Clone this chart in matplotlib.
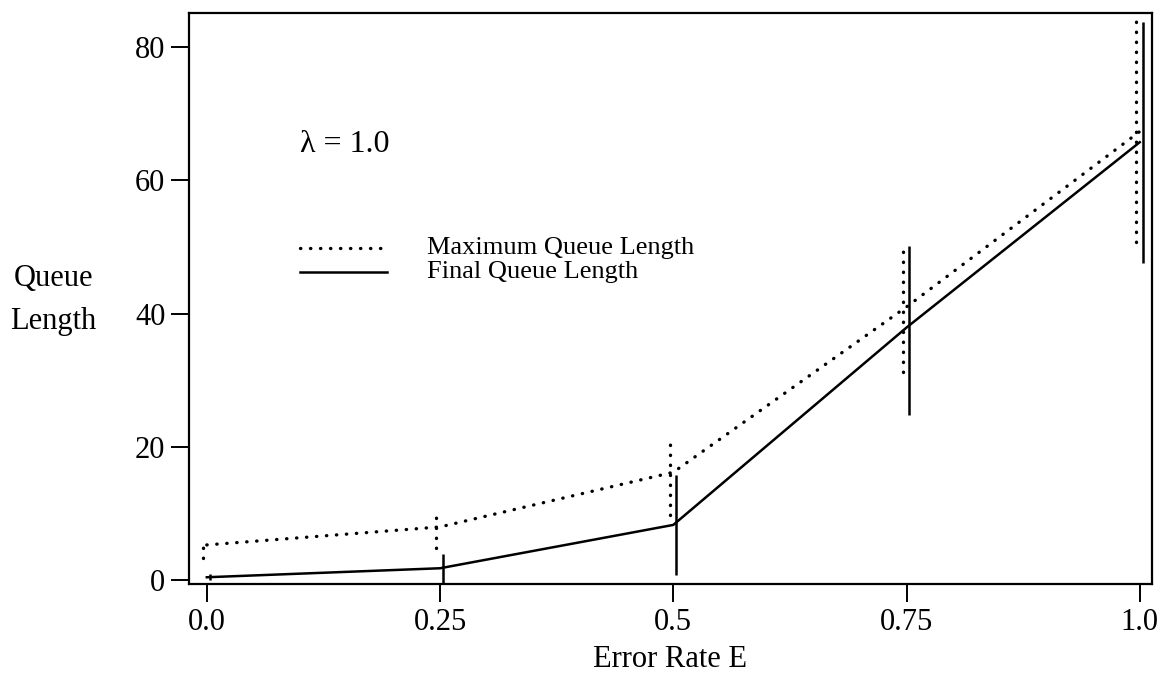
import matplotlib
matplotlib.use("Agg")
import matplotlib.pyplot as plt
import numpy as np

# error rate values on x axis
error_rate = [0.0, 0.25, 0.5, 0.75, 1.0]
x_labels = ["0.0", "0.25", "0.5", "0.75", "1.0"]

# maximum queue length (dotted) and its spread
max_mean = [5.3, 8.0, 16.2, 41.0, 67.3]
max_low = [3.4, 4.8, 9.8, 31.3, 50.7]
max_high = [5.3, 9.5, 20.9, 50.8, 84.1]

# final queue length (solid) and its spread
final_mean = [0.45, 1.8, 8.3, 37.9, 65.7]
final_low = [0.0, -0.5, 0.75, 24.8, 47.6]
final_high = [0.9, 4.0, 15.8, 50.2, 83.7]

y_ticks = [0, 20, 40, 60, 80]

plt.rcParams['font.family'] = ['Liberation Serif', 'DejaVu Serif']

fig = plt.figure(figsize=(11.6, 6.77), dpi=100)
ax = fig.add_axes([0.163, 0.137, 0.830, 0.844])

dots = (0, (0.1, 2.9))
x = np.array(error_rate)

ax.plot(x, max_mean, color='black', lw=2.4, linestyle=dots, dash_capstyle='round')
ax.plot(x, final_mean, color='black', lw=1.8)

# spread bars, dotted one slightly left, solid one slightly right
ax.vlines(x - 0.004, max_low, max_high, color='black', lw=2.4, linestyle=dots,
          capstyle='round')
ax.vlines(x + 0.003, final_low, final_high, color='black', lw=1.8)

ax.set_xlim(-0.019, 1.013)
ax.set_ylim(-0.6, 85.1)
ax.set_xticks(error_rate)
ax.set_xticklabels(x_labels)
ax.set_yticks(y_ticks)
ax.tick_params(direction='out', length=13, width=1.4, labelsize=22, pad=4)
for s in ax.spines.values():
    s.set_linewidth(1.6)

ax.set_xlabel("Error Rate E", fontsize=22, labelpad=6)
fig.text(0.046, 0.557, "Queue\nLength", fontsize=22, ha='center', va='center',
         linespacing=1.6)

ax.text(0.0999, 65.3, "λ = 1.0", fontsize=23, va='center')
# hand-drawn legend
ax.plot([0.0999, 0.193], [49.8, 49.8], color='black', lw=2.4, linestyle=dots,
        dash_capstyle='round')
ax.plot([0.0999, 0.193], [46.2, 46.2], color='black', lw=1.8)
ax.text(0.236, 49.8, "Maximum Queue Length", fontsize=19, va='center')
ax.text(0.236, 46.2, "Final Queue Length", fontsize=19, va='center')

fig.savefig("out.png", dpi=100)
